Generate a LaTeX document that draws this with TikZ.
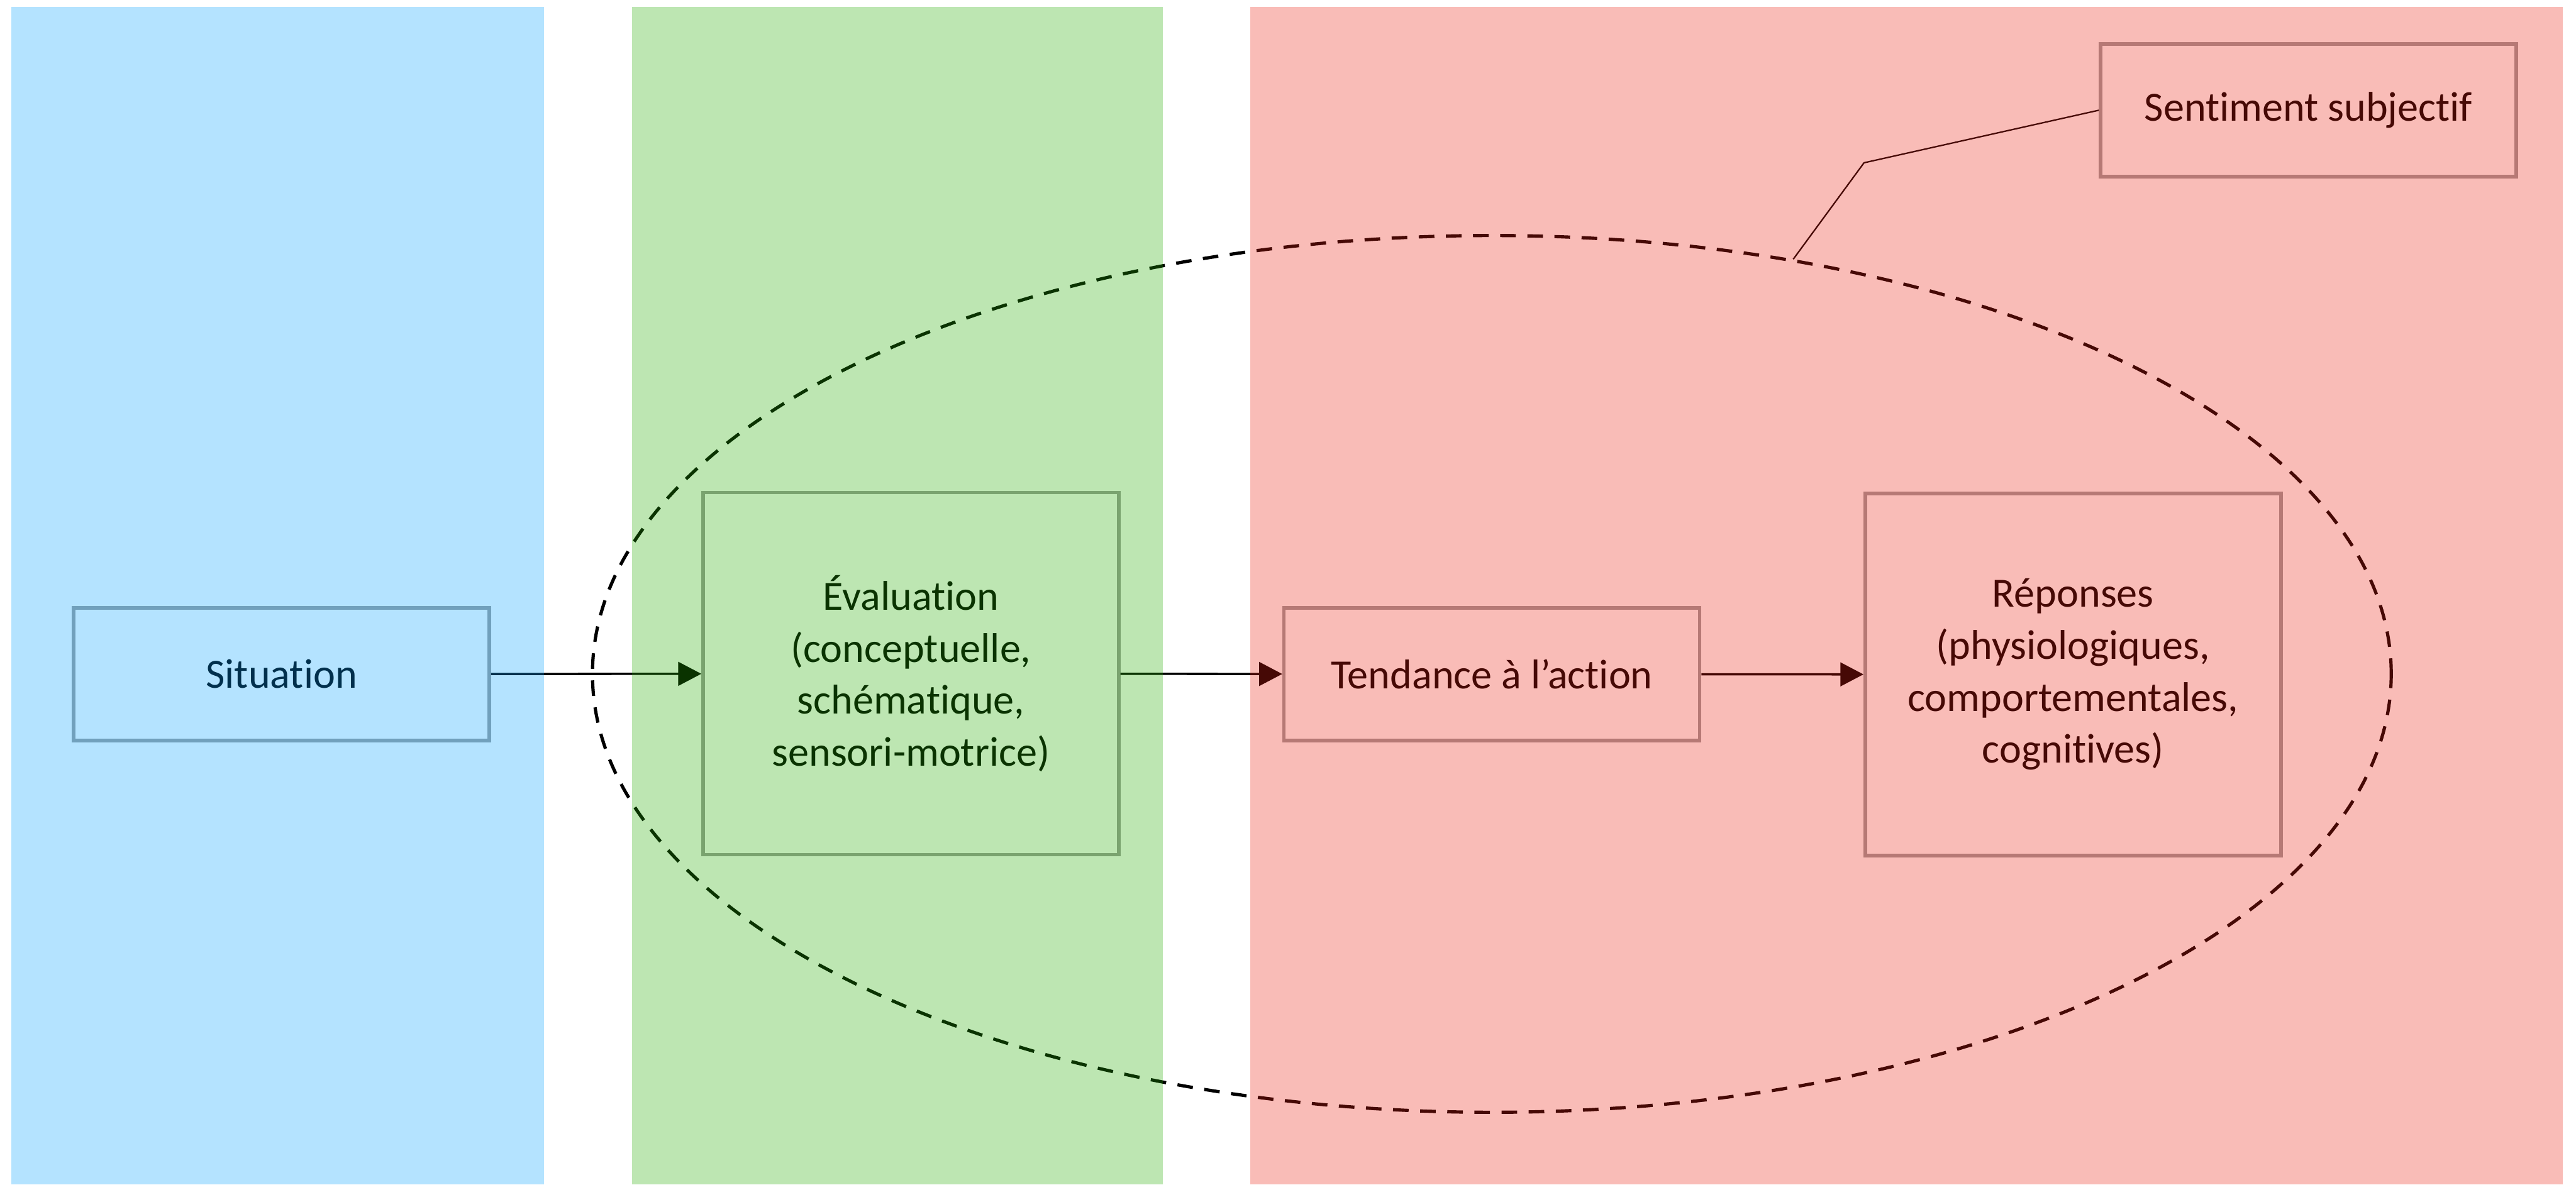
\documentclass[tikz,border=0pt]{standalone}
\usepackage{fontspec}
\setmainfont{Carlito}[RawFeature={-liga}]
\usetikzlibrary{arrows.meta,shapes.geometric}
\definecolor{laneblue}{RGB}{5,162,255}
\definecolor{lanegreen}{RGB}{35,172,0}
\definecolor{lanered}{RGB}{235,32,18}
\definecolor{boxline}{RGB}{160,160,160}
\begin{document}
\begin{tikzpicture}[
  every node/.style={font=\fontsize{20.5pt}{25.6pt}\selectfont},
  stage/.style={draw=boxline, line width=1.7pt, minimum width=7.2cm, align=center, inner sep=0pt},
  shortbox/.style={stage, minimum height=2.3cm},
  tallbox/.style={stage, minimum height=6.27cm},
  flow/.style={line width=1.1pt, -{Triangle[length=0.4cm,width=0.41cm]}},
  feeling/.style={draw, ellipse, dashed, dash pattern=on 0.27cm off 0.2cm, line width=1.6pt, inner sep=0pt},
  leader/.style={line width=0.7pt},
  lane/.style={fill=#1, fill opacity=0.3, draw=none},
]
\useasboundingbox (0,0) rectangle (44.61,-20.52);

% process boxes
\node[shortbox] (sit) at (4.875,-11.68) {Situation};
\node[tallbox]  (eva) at (15.775,-11.67) {Évaluation\\(conceptuelle,\\schématique,\\sensori-motrice)};
\node[shortbox] (ten) at (25.835,-11.68) {Tendance à l’action};
\node[tallbox]  (rep) at (35.90,-11.685) {Réponses\\(physiologiques,\\comportementales,\\cognitives)};
\node[shortbox] (sen) at (39.975,-1.91) {Sentiment subjectif};

% dashed envelope of the subjective feeling
\node[feeling, minimum width=31.15cm, minimum height=15.19cm] (feel) at (25.835,-11.675) {};

% flow arrows
\draw[flow] (sit) -- (eva);
\draw[flow] (eva) -- (ten);
\draw[flow] (ten) -- (rep);

% leader from the envelope to its label
\coordinate (bend) at (32.28,-2.82);
\draw[leader] (feel.54.9) -- (bend) -- (sen.west);

% translucent lanes laid over everything
\fill[lane=laneblue]  (0.20,-0.12) rectangle (9.42,-20.52);
\fill[lane=lanegreen] (10.95,-0.12) rectangle (20.14,-20.52);
\fill[lane=lanered]   (21.65,-0.12) rectangle (44.38,-20.52);
\end{tikzpicture}
\end{document}
